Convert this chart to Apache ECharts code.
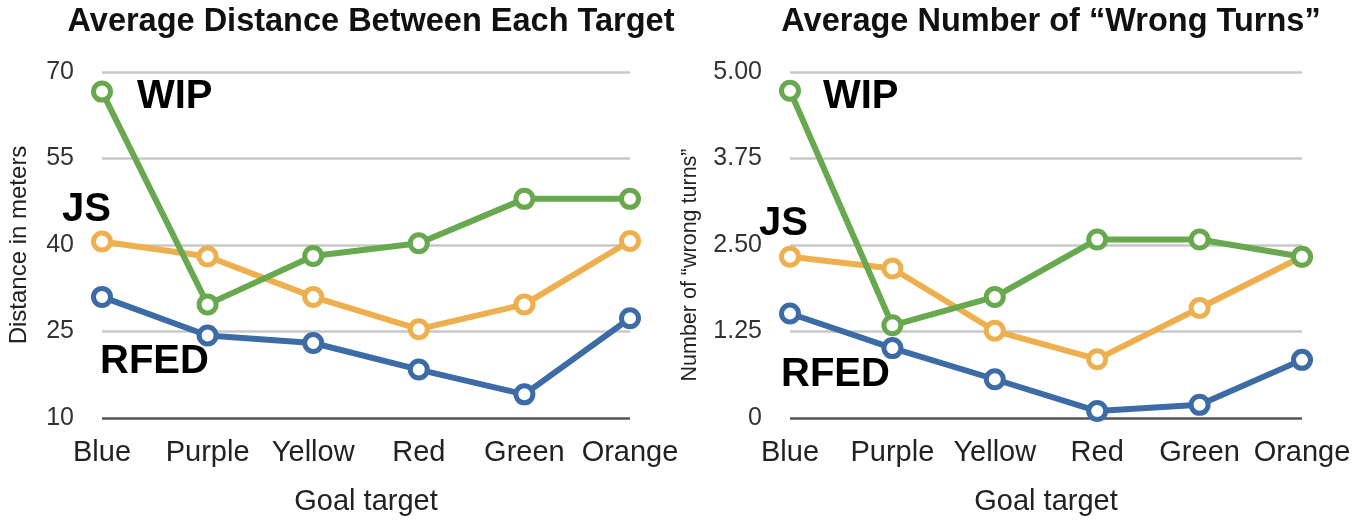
<!DOCTYPE html>
<html>
<head>
<meta charset="utf-8">
<script src="https://cdn.jsdelivr.net/npm/echarts@6/dist/echarts.min.js"></script>
<style>
html,body{margin:0;padding:0;background:#fff;}
#chart{width:1372px;height:525px;}
</style>
</head>
<body>
<div id="chart"></div>
<script>
const categories = ['Blue', 'Purple', 'Yellow', 'Red', 'Green', 'Orange'];
const distWIP  = [66.6, 29.7, 38.1, 40.3, 48.0, 48.0];
const distJS   = [40.6, 38.0, 31.0, 25.4, 29.7, 40.7];
const distRFED = [31.0, 24.3, 23.0, 18.4, 14.1, 27.3];
const turnsWIP  = [4.73, 1.34, 1.75, 2.58, 2.58, 2.33];
const turnsJS   = [2.33, 2.16, 1.26, 0.85, 1.59, 2.33];
const turnsRFED = [1.51, 1.01, 0.56, 0.10, 0.19, 0.84];
const distTicks  = ['10', '25', '40', '55', '70'];
const turnsTicks = ['0', '1.25', '2.50', '3.75', '5.00'];
const titles = ['Average Distance Between Each Target', 'Average Number of \u201cWrong Turns\u201d'];
const yNames = ['Distance in meters', 'Number of \u201cwrong turns\u201d'];
const xName = 'Goal target';
const seriesNames = ['WIP', 'JS', 'RFED'];

const FONT = '"Liberation Sans", Arial, Helvetica, sans-serif';
const COLORS = {WIP: '#68a84f', JS: '#eeb04e', RFED: '#3c6ba5'};

const chart = echarts.init(document.getElementById('chart'), null, {renderer: 'canvas'});

function xAxisFor(i) {
  return {
    type: 'category', gridIndex: i, data: categories, boundaryGap: false,
    axisLine: {show: false}, axisTick: {show: false},
    axisLabel: {color: '#222', fontSize: 29, fontFamily: FONT, margin: 20, interval: 0},
    name: xName, nameLocation: 'middle', nameGap: 69,
    nameTextStyle: {color: '#222', fontSize: 29, fontFamily: FONT}
  };
}
function yAxisFor(i, min, max, interval, ticks, nameGap, nameSize, namePad) {
  return {
    type: 'value', gridIndex: i, min: min, max: max, interval: interval,
    axisLine: {show: false}, axisTick: {show: false},
    axisLabel: {
      color: '#333', fontSize: 25, fontFamily: FONT, margin: 28,
      formatter: function (v) {
        const idx = Math.round((v - min) / interval);
        return ticks[idx];
      }
    },
    splitLine: {show: true, lineStyle: {color: ['#555', '#c8c8c8', '#c8c8c8', '#c8c8c8', '#c8c8c8'], width: 2.5}},
    name: yNames[i], nameLocation: 'middle', nameGap: nameGap,
    nameTextStyle: {color: '#222', fontSize: nameSize, fontFamily: FONT, padding: namePad}
  };
}
function lineSeries(name, data, i) {
  return {
    name: name, type: 'line', xAxisIndex: i, yAxisIndex: i, data: data,
    symbol: 'circle', symbolSize: 17, showAllSymbol: true,
    color: COLORS[name],
    lineStyle: {color: COLORS[name], width: 6},
    itemStyle: {color: '#ffffff', borderColor: COLORS[name], borderWidth: 5},
    emphasis: {disabled: true}, z: 3
  };
}
function bigLabel(text, x, y) {
  return {type: 'text', left: x, top: y, style: {text: text, fill: '#000', font: 'bold 40px ' + FONT}, z: 10};
}

const option = {
  animation: false,
  backgroundColor: '#fff',
  title: [
    {text: titles[0], left: 366, top: 1, textAlign: 'center',
     textStyle: {fontSize: 32.5, fontWeight: 'bold', color: '#111', fontFamily: FONT}},
    {text: titles[1], left: 1046, top: 1, textAlign: 'center',
     textStyle: {fontSize: 32.5, fontWeight: 'bold', color: '#111', fontFamily: FONT}}
  ],
  grid: [
    {left: 102, top: 72, width: 528, height: 346},
    {left: 790, top: 72, width: 512, height: 346}
  ],
  xAxis: [xAxisFor(0), xAxisFor(1)],
  yAxis: [
    yAxisFor(0, 10, 70, 15, distTicks, 71, 24, 0),
    yAxisFor(1, 0, 5, 1.25, turnsTicks, 89, 21.5, [0, 40, 0, 0])
  ],
  series: [
    lineSeries('RFED', distRFED, 0),
    lineSeries('JS', distJS, 0),
    lineSeries('WIP', distWIP, 0),
    lineSeries('RFED', turnsRFED, 1),
    lineSeries('JS', turnsJS, 1),
    lineSeries('WIP', turnsWIP, 1)
  ],
  graphic: [
    bigLabel(seriesNames[0], 137, 77),
    bigLabel(seriesNames[1], 62, 190),
    bigLabel(seriesNames[2], 100, 342),
    bigLabel(seriesNames[0], 823, 77),
    bigLabel(seriesNames[1], 759, 204),
    bigLabel(seriesNames[2], 781, 355)
  ]
};
chart.setOption(option);
</script>
</body>
</html>
